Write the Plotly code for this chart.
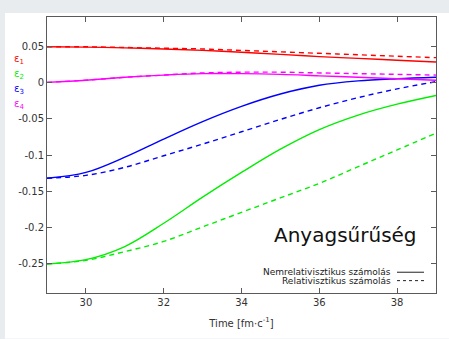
import plotly.graph_objects as go

t = [29, 30, 31, 32, 33, 34, 35, 36, 37, 38, 39]

eps1_nonrel = [0.049, 0.0485, 0.0475, 0.046, 0.044, 0.0415, 0.0385, 0.0355, 0.033, 0.0305, 0.028]
eps1_rel    = [0.049, 0.049, 0.048, 0.047, 0.046, 0.044, 0.042, 0.040, 0.038, 0.036, 0.034]
eps2_nonrel = [-0.250, -0.244, -0.226, -0.194, -0.158, -0.124, -0.092, -0.065, -0.045, -0.030, -0.018]
eps2_rel    = [-0.250, -0.245, -0.233, -0.219, -0.199, -0.179, -0.159, -0.139, -0.116, -0.093, -0.070]
eps3_nonrel = [-0.132, -0.124, -0.103, -0.078, -0.054, -0.033, -0.016, -0.004, 0.002, 0.005, 0.007]
eps3_rel    = [-0.132, -0.128, -0.117, -0.101, -0.085, -0.068, -0.051, -0.035, -0.021, -0.009, 0.001]
eps4_nonrel = [0.000, 0.003, 0.007, 0.010, 0.012, 0.012, 0.011, 0.009, 0.007, 0.005, 0.003]
eps4_rel    = [0.000, 0.003, 0.007, 0.010, 0.013, 0.014, 0.014, 0.013, 0.012, 0.011, 0.010]

series_labels = ["ε<sub>1</sub>", "ε<sub>2</sub>", "ε<sub>3</sub>", "ε<sub>4</sub>"]
colors = ["#ff0000", "#00ee00", "#0000ff", "#ff00ff"]

x_ticks = [30, 32, 34, 36, 38]
y_ticks = [0.05, 0, -0.05, -0.1, -0.15, -0.2, -0.25]
y_ticktext = ["0.05", "0", "-0.05", "-0.1", "-0.15", "-0.2", "-0.25"]

legend_labels = ["Nemrelativisztikus számolás", "Relativisztikus számolás"]
title_text = "Anyagsűrűség"
x_title = "Time [fm·c<sup>-1</sup>]"

fig = go.Figure()
pairs = [(eps1_nonrel, eps1_rel), (eps2_nonrel, eps2_rel), (eps3_nonrel, eps3_rel), (eps4_nonrel, eps4_rel)]
for (nr, rl), c in zip(pairs, colors):
    fig.add_trace(go.Scatter(x=t, y=rl, mode="lines", line=dict(color=c, width=1.4, dash="5px,4px", shape="spline", smoothing=1.0),
                             showlegend=False, hoverinfo="skip"))
    fig.add_trace(go.Scatter(x=t, y=nr, mode="lines", line=dict(color=c, width=1.4, shape="spline", smoothing=1.0),
                             showlegend=False, hoverinfo="skip"))

W, H = 449, 339
ml, mr, mt, mb = 47, 13, 17, 43
pw, ph = W - ml - mr, H - mt - mb

def px(xp):
    return (xp - ml) / pw

def py(yp):
    return (H - mb - yp) / ph

font_family = "DejaVu Sans"
axis_col = "#5a5a5a"

fig.update_layout(
    width=W, height=H,
    margin=dict(l=ml, r=mr, t=mt, b=mb),
    paper_bgcolor="#e8ecee",
    plot_bgcolor="white",
    font=dict(family=font_family, size=10, color="#333333"),
    showlegend=False,
    xaxis=dict(range=[29, 39], tickvals=x_ticks, ticks="inside", ticklen=5, tickcolor=axis_col,
               showline=True, linecolor=axis_col, linewidth=1, mirror="ticks", showgrid=False, zeroline=False,
               title=dict(text=x_title, font=dict(size=10, color="#333333"), standoff=12),
               tickfont=dict(size=10, color="#333333")),
    yaxis=dict(range=[-0.29, 0.09], tickvals=y_ticks, ticktext=y_ticktext, ticks="inside", ticklen=5,
               tickcolor=axis_col, showline=True, linecolor=axis_col, linewidth=1, mirror="ticks",
               showgrid=False, zeroline=False, tickfont=dict(size=10, color="#333333")),
)

# white page area
fig.add_shape(type="rect", xref="paper", yref="paper", x0=px(5), x1=px(452), y0=py(342), y1=py(13),
              fillcolor="white", line=dict(width=0), layer="below")

# series labels on the left
for i, (lab, c) in enumerate(zip(series_labels, colors)):
    fig.add_annotation(xref="paper", yref="paper", x=px(19), y=py(60 + 15 * i), text=lab, showarrow=False,
                       font=dict(family=font_family, size=10, color=c), xanchor="center", yanchor="middle")

# title inside the plot
fig.add_annotation(xref="paper", yref="paper", x=px(419), y=py(237), text=title_text, showarrow=False,
                   font=dict(family=font_family, size=20, color="#111111"), xanchor="right", yanchor="middle")

# legend (text right-aligned, sample on the right)
for i, lab in enumerate(legend_labels):
    yy = py(275 + 8.5 * i)
    fig.add_annotation(xref="paper", yref="paper", x=px(393), y=yy, text=lab, showarrow=False,
                       font=dict(family=font_family, size=9, color="#222222"), xanchor="right", yanchor="middle")
    fig.add_shape(type="line", xref="paper", yref="paper", x0=px(397), x1=px(424), y0=yy, y1=yy,
                  line=dict(color="#222222", width=1, dash="solid" if i == 0 else "3px,3px"))

fig.write_html("out.html")
